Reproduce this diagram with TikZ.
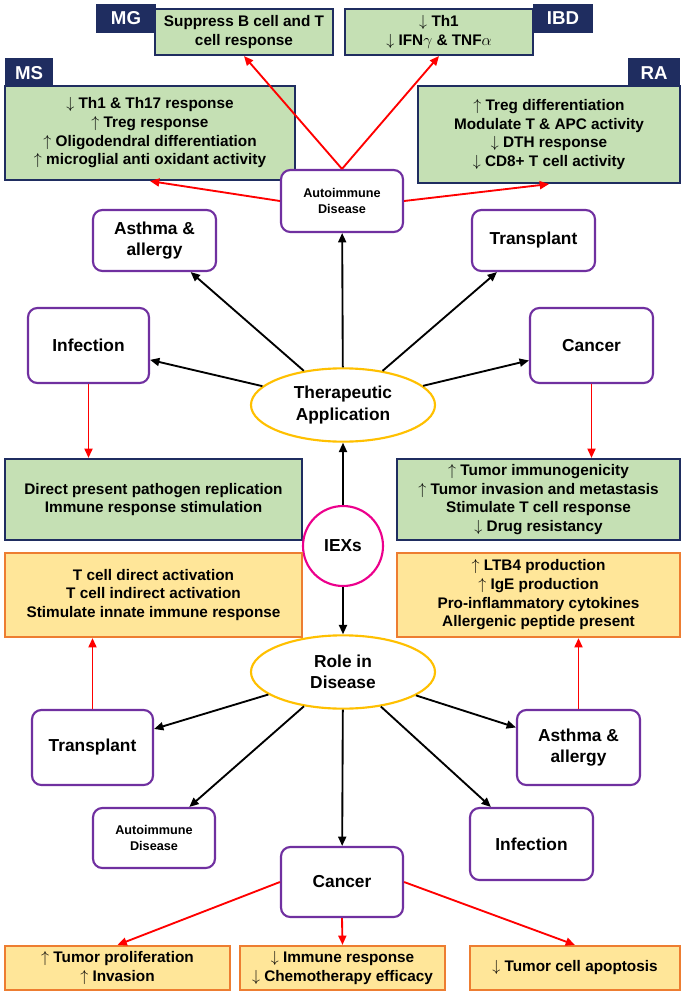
\documentclass[tikz,border=0pt]{standalone}
\usepackage{fontspec}
\setmainfont{Liberation Sans}
\usetikzlibrary{arrows.meta,calc,shapes.geometric}
\definecolor{gfill}{RGB}{197,224,180}
\definecolor{navy}{RGB}{31,45,96}
\definecolor{ofill}{RGB}{255,230,153}
\definecolor{oline}{RGB}{237,125,49}
\definecolor{purp}{RGB}{112,48,160}
\definecolor{gold}{RGB}{255,192,0}
\definecolor{mag}{RGB}{236,0,140}
\begin{document}
\begin{tikzpicture}[x=0.75pt,y=-0.75pt,font=\bfseries,
 gbox/.style={draw=navy,line width=1.6pt,fill=gfill,align=center,inner sep=0pt,font=\bfseries\fontsize{11.5}{14}\selectfont},
 obox/.style={draw=oline,line width=1.6pt,fill=ofill,align=center,inner sep=0pt,font=\bfseries\fontsize{11.5}{14}\selectfont},
 lab/.style={fill=navy,text=white,inner sep=0pt,font=\bfseries\fontsize{14}{16}\selectfont},
 pbox/.style={draw=purp,line width=1.6pt,rounded corners=7pt,fill=white,align=center,inner sep=0pt,font=\bfseries\fontsize{13}{16}\selectfont},
 ell/.style={draw=gold,line width=1.6pt,ellipse,fill=white,align=center,inner sep=0pt,font=\bfseries\fontsize{13}{16}\selectfont},
 bk/.style={-{Triangle[length=7pt,width=6pt]},line width=1.4pt,black},
 rd/.style={-{Triangle[length=7pt,width=6pt]},line width=1.4pt,red}]
\useasboundingbox (0,0) rectangle (685,995);
\newcommand{\bx}[6]{\node[#1,minimum width={(#4-#2)*0.75pt},minimum height={(#5-#3)*0.75pt}] (#6) at ({(#2+#4)/2},{(#3+#5)/2})}
% top
\bx{lab}{96}{4}{156}{33}{mgl} {MG};
\bx{gbox}{155}{9}{333}{55}{mg} {Suppress B cell and T\\cell response};
\bx{lab}{533}{4}{593}{33}{ibdl} {IBD};
\bx{gbox}{345}{9}{533}{55}{ibd} {$\downarrow$ Th1\\$\downarrow$ IFN$\gamma$ \& TNF$\alpha$};
\bx{lab}{5}{58}{53}{88}{msl} {MS};
\bx{gbox}{5}{86}{295}{180}{ms} {$\downarrow$ Th1 \& Th17 response\\$\uparrow$ Treg response\\$\uparrow$ Oligodendral differentiation\\$\uparrow$ microglial anti oxidant activity};
\bx{lab}{628}{58}{680}{88}{ral} {RA};
\bx{gbox}{418}{86}{680}{183}{ra} {$\uparrow$ Treg differentiation\\Modulate T \& APC activity\\$\downarrow$ DTH response\\$\downarrow$ CD8+ T cell activity};
\bx{pbox,font=\bfseries\fontsize{9.5}{12.5}\selectfont}{281}{170}{403}{232}{aut} {Autoimmune\\Disease};
\bx{pbox}{93}{210}{216}{271}{ast} {Asthma \&\\allergy};
\bx{pbox}{472}{210}{595}{271}{tra} {Transplant};
\bx{pbox}{28}{308}{149}{383}{inf} {Infection};
\bx{pbox}{530}{308}{653}{383}{can} {Cancer};
\node[ell,minimum width=138pt,minimum height=55pt] (ther) at (343,405) {Therapeutic\\Application};
\bx{gbox}{5}{459}{302}{540}{g1} {Direct present pathogen replication\\Immune response stimulation};
\bx{gbox}{397}{459}{680}{540}{g2} {$\uparrow$ Tumor immunogenicity\\$\uparrow$ Tumor invasion and metastasis\\Stimulate T cell response\\$\downarrow$ Drug resistancy};
\node[circle,draw=mag,line width=1.6pt,fill=white,minimum size=60pt,inner sep=0pt,font=\bfseries\fontsize{13}{16}\selectfont] (iex) at (343,546) {IEXs};
\bx{obox}{5}{553}{302}{637}{o1} {T cell direct activation\\T cell indirect activation\\Stimulate innate immune response};
\bx{obox}{397}{553}{680}{637}{o2} {$\uparrow$ LTB4 production\\$\uparrow$ IgE production\\Pro-inflammatory cytokines\\Allergenic peptide present};
\node[ell,minimum width=138pt,minimum height=55pt] (role) at (343,672) {Role in\\Disease};
\bx{pbox}{32}{710}{153}{785}{tra2} {Transplant};
\bx{pbox}{517}{710}{640}{785}{ast2} {Asthma \&\\allergy};
\bx{pbox,font=\bfseries\fontsize{9.5}{12.5}\selectfont}{93}{808}{215}{868}{aut2} {Autoimmune\\Disease};
\bx{pbox}{470}{808}{593}{880}{inf2} {Infection};
\bx{pbox}{281}{847}{403}{917}{can2} {Cancer};
\bx{obox}{5}{946}{230}{990}{b1} {$\uparrow$ Tumor proliferation\\$\uparrow$ Invasion};
\bx{obox}{240}{946}{445}{990}{b2} {$\downarrow$ Immune response\\$\downarrow$ Chemotherapy efficacy};
\bx{obox}{470}{946}{680}{990}{b3} {$\downarrow$ Tumor cell apoptosis};
% black arrows
\draw[bk] (ther) -- (aut);
\draw[bk] (ther) -- (ast);
\draw[bk] (ther) -- (tra);
\draw[bk] (ther) -- (inf);
\draw[bk] (ther) -- (can);
\draw[bk] (iex) -- (ther);
\draw[bk] (iex) -- (role);
\draw[bk] (role) -- (tra2);
\draw[bk] (role) -- (ast2);
\draw[bk] (role) -- (aut2);
\draw[bk] (role) -- (inf2);
\draw[bk] (role) -- (can2);
% red
\draw[rd] (aut.north) -- (mg.south);
\draw[rd] (aut.north) -- (ibd.south);
\draw[rd] (aut.west) -- (ms.south);
\draw[rd] (aut.east) -- (ra.south);
\draw[rd] (inf.south) -- (inf.south|-g1.north);
\draw[rd] (can.south) -- (can.south|-g2.north);
\draw[rd] (tra2.north) -- (tra2.north|-o1.south);
\draw[rd] (ast2.north) -- (ast2.north|-o2.south);
\draw[rd] (can2.west) -- (b1.north);
\draw[rd] (can2.south) -- (b2.north);
\draw[rd] (can2.east) -- (b3.north);
\end{tikzpicture}
\end{document}
